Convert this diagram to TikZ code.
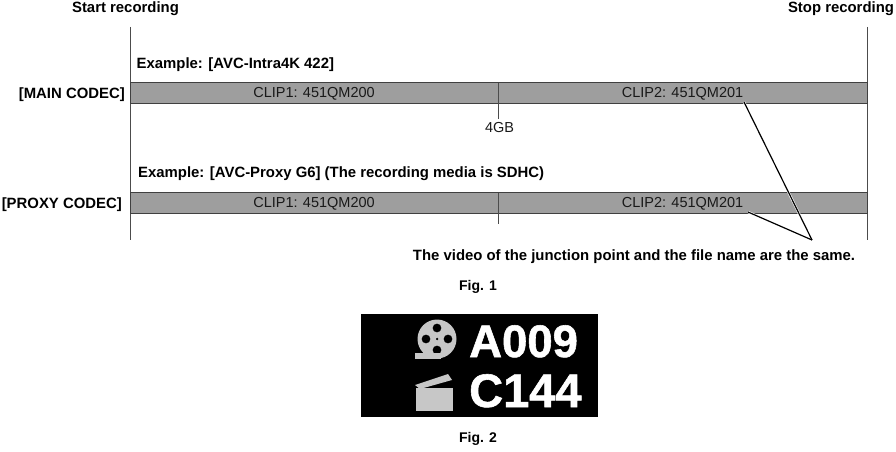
\documentclass[tikz,border=0pt]{standalone}
\usepackage{fontspec}
\setmainfont{Liberation Sans}
\newfontfamily\heavyfont[BoldFont={Liberation Sans Bold}, BoldFeatures={FakeBold=1.2}]{Liberation Sans}
\tikzset{>=latex}
\tikzset{
    boldtext/.style={font=\fontsize{14.9}{16}\selectfont\bfseries, inner sep=0pt, text=black},
    figtext/.style={font=\fontsize{14}{16}\selectfont\bfseries, inner sep=0pt, text=black},
    cliptext/.style={font=\fontsize{14.5}{16}\selectfont, inner sep=0pt, text=black!90},
    clipbar/.style={fill=black!38, draw=black!75, line width=1pt},
    edgeline/.style={draw=black!70, line width=1pt},
    pointer/.style={draw=black, line width=1.2pt},
    icongray/.style={fill=black!22, draw=none}
}
\begin{document}
\begin{tikzpicture}[x=1pt,y=-1pt]
    \useasboundingbox (0,0) rectangle (896,452);

    \draw[edgeline] (130,27) -- (130,240);
    \draw[edgeline] (867,27) -- (867,240);

    \draw[clipbar] (130,82.5) rectangle (867,103.5);
    \draw[clipbar] (130,192.5) rectangle (867,213.5);
    \draw[edgeline] (498,82.5) -- (498,119);
    \draw[edgeline] (498,192.5) -- (498,224);

    \node[boldtext] (startlabel) at (125.5,9) {Start recording};
    \node[boldtext] (stoplabel) at (841,9) {Stop recording};
    \node[boldtext, anchor=west] (mainexample) at (136.5,65) {Example: [AVC-Intra4K 422]};
    \node[boldtext, anchor=west] (proxyexample) at (138,174) {Example: [AVC-Proxy G6] (The recording media is SDHC)};
    \node[boldtext, anchor=east] (mainlabel) at (125,94.5) {[MAIN CODEC]};
    \node[boldtext, anchor=east] (proxylabel) at (122,205) {[PROXY CODEC]};

    \node[cliptext] (mainclipa) at (314,93.5) {CLIP1: 451QM200};
    \node[cliptext] (mainclipb) at (682.5,93.5) {CLIP2: 451QM201};
    \node[cliptext] (proxyclipa) at (314,204) {CLIP1: 451QM200};
    \node[cliptext] (proxyclipb) at (682.5,204) {CLIP2: 451QM201};
    \node[cliptext] (sizelabel) at (499.5,128) {4GB};

    \node[boldtext] (samelabel) at (634,256.5) {The video of the junction point and the file name are the same.};
    \node[figtext] (figone) at (478,286.5) {Fig. 1};
    \node[figtext] (figtwo) at (478,439) {Fig. 2};

    \coordinate (mainend) at (744,102);
    \coordinate (proxyend) at (748,212);
    \coordinate (meetpoint) at (812,240);
    \draw[white, line width=2.4pt] (mainend) -- (meetpoint);
    \draw[white, line width=2.4pt] (proxyend) -- (meetpoint);
    \draw[pointer] (mainend) -- (meetpoint);
    \draw[pointer] (proxyend) -- (meetpoint);


    \fill[black] (361,314) rectangle (597.5,417);

    \fill[icongray, even odd rule] (437,339) circle (19.5)
        (437,328) circle (4.5) (437,350) circle (4.5)
        (426,339) circle (4.5) (448,339) circle (4.5)
        (437,339) circle (1.5);
    \fill[icongray] (415,353) rectangle (441,358.5);

    \fill[icongray] (416,388) rectangle (453,411);
    \fill[icongray] (415,385) -- (448,374) -- (452,380) -- (420,389) -- cycle;

    \node[font=\heavyfont\fontsize{45.5}{46}\selectfont\bfseries, text=white, inner sep=0pt, anchor=base west] (reellabel) at (469,357) {A009};
    \node[font=\heavyfont\fontsize{47}{47}\selectfont\bfseries, text=white, inner sep=0pt, anchor=base west] (cliplabel) at (469,407) {C144};
\end{tikzpicture}
\end{document}
